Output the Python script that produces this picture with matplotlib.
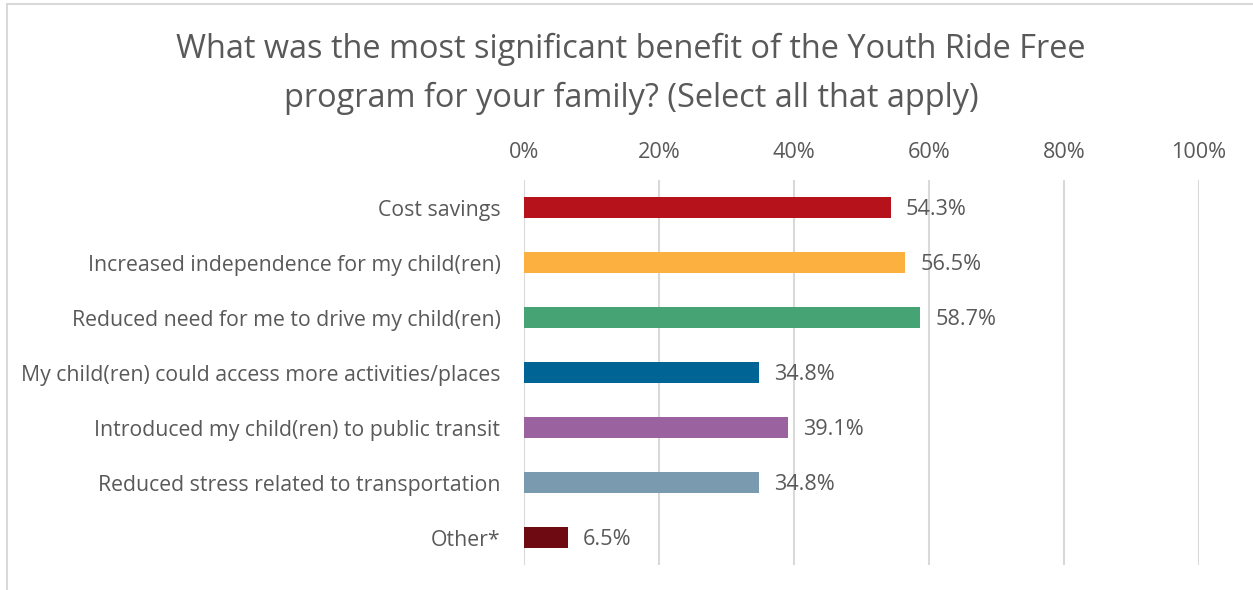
import matplotlib.pyplot as plt
from matplotlib.patches import Rectangle
from matplotlib.ticker import PercentFormatter

categories = [
    "Cost savings",
    "Increased independence for my child(ren)",
    "Reduced need for me to drive my child(ren)",
    "My child(ren) could access more activities/places",
    "Introduced my child(ren) to public transit",
    "Reduced stress related to transportation",
    "Other*",
]
values = [54.3, 56.5, 58.7, 34.8, 39.1, 34.8, 6.5]
colors = ["#B5121B", "#FBB040", "#46A374", "#006595", "#9B62A0", "#7A9AAF", "#6D0A12"]
ticks = [0, 20, 40, 60, 80, 100]

txt = "#595959"
plt.rcParams['font.family'] = ['Open Sans', 'DejaVu Sans']

fig = plt.figure(figsize=(12.53, 5.90), dpi=100)
fig.patches.append(Rectangle((7 / 1253, -0.1), 1.2, 1 - 4 / 590 + 0.1, transform=fig.transFigure,
                             fill=False, edgecolor="#D9D9D9", linewidth=1.5))

ax = fig.add_axes([524 / 1253, 1 - 565 / 590, 675 / 1253, 385 / 590])
y = range(len(categories))
ax.barh(y, values, height=0.365, color=colors, zorder=3)
for i, v in enumerate(values):
    ax.annotate(f"{v:.1f}%", (v, i), xytext=(11, -1.5), textcoords="offset points",
                va="center", ha="left", fontsize=15.6, color=txt)

ax.set_xlim(0, 100)
ax.set_ylim(len(categories) - 0.5, -0.5)
ax.set_xticks(ticks)
ax.xaxis.set_major_formatter(PercentFormatter(decimals=0))
ax.xaxis.tick_top()
ax.set_yticks(list(y))
ax.set_yticklabels(categories)
ax.tick_params(axis="x", length=0, pad=12, labelsize=15.6, labelcolor=txt)
ax.tick_params(axis="y", length=0, pad=17, labelsize=15.3, labelcolor=txt)
ax.grid(axis="x", color="#D9D9D9", linewidth=1.5, zorder=0)
for s in ax.spines.values():
    s.set_visible(False)

fig.text(631 / 1253, 1 - 74 / 590,
         "What was the most significant benefit of the Youth Ride Free\nprogram for your family? (Select all that apply)",
         ha="center", va="center", fontsize=23.4, color=txt, linespacing=1.6)

fig.savefig("out.png", dpi=100)
